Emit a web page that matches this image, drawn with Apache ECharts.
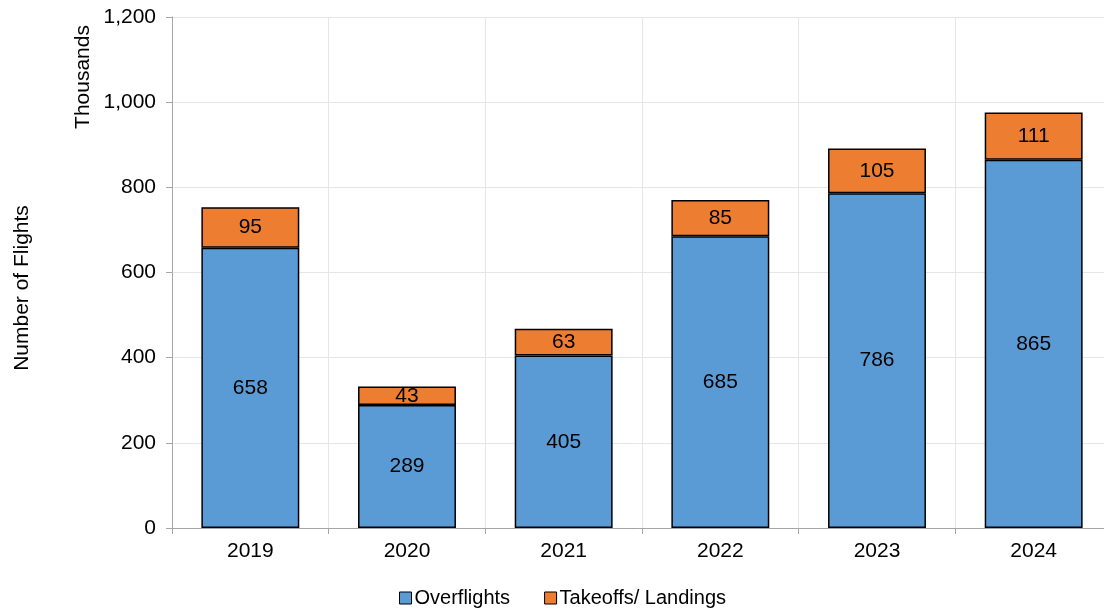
<!DOCTYPE html>
<html><head><meta charset="utf-8">
<script src="https://cdn.jsdelivr.net/npm/echarts@6/dist/echarts.min.js"></script>
<style>html,body{margin:0;padding:0;background:#fff}#c{width:1104px;height:615px}</style>
</head><body><div id="c"></div>
<script>
const categories = ['2019','2020','2021','2022','2023','2024'];
const overflights = [658, 289, 405, 685, 786, 865];
const takeoffsLandings = [95, 43, 63, 85, 105, 111];
const yTicks = [0, 200, 400, 600, 800, 1000, 1200];

const chart = echarts.init(document.getElementById('c'));
const font = 'Liberation Sans, Arial, sans-serif';
chart.setOption({
  animation: false,
  textStyle: {fontFamily: font},
  grid: {left: 172, width: 940, top: 17, bottom: 87, containLabel: false, outerBoundsMode: 'none'},
  legend: {
    bottom: 2, left: 394, itemWidth: 12, itemHeight: 12, itemGap: 34,
    icon: 'rect',
    textStyle: {fontSize: 20, color: '#000', fontFamily: font, padding: [0,0,0,-2]},
    itemStyle: {borderColor: '#000', borderWidth: 1},
    data: ['Overflights', 'Takeoffs/ Landings']
  },
  xAxis: {
    type: 'category', data: categories,
    axisLine: {lineStyle: {color: '#a6a6a6', width: 1}},
    axisTick: {show: true, length: 6, lineStyle: {color: '#a6a6a6'}},
    axisLabel: {fontSize: 21, color: '#000', margin: 13, fontFamily: font},
    splitLine: {show: true, lineStyle: {color: '#e6e6e6'}}
  },
  yAxis: {
    type: 'value', min: 0, max: 1200, interval: 200,
    axisLine: {show: true, lineStyle: {color: '#a6a6a6'}},
    axisTick: {show: true, length: 6, lineStyle: {color: '#a6a6a6'}},
    axisLabel: {fontSize: 21, color: '#000', margin: 16, fontFamily: font,
      formatter: v => v.toLocaleString('en-US')},
    splitLine: {lineStyle: {color: '#e6e6e6'}}
  },
  graphic: [
    {type: 'text', x: 83, y: 77, rotation: Math.PI/2,
     style: {text: 'Thousands', fontSize: 21, fill: '#000', fontFamily: font, align: 'center', verticalAlign: 'middle'}},
    {type: 'text', x: 22, y: 288, rotation: Math.PI/2,
     style: {text: 'Number of Flights', fontSize: 21, fill: '#000', fontFamily: font, align: 'center', verticalAlign: 'middle'}}
  ],
  series: [
    {name: 'Overflights', type: 'bar', stack: 'a', data: overflights, barWidth: '62.5%',
     itemStyle: {color: '#5b9bd5', borderColor: '#000', borderWidth: 1.5},
     label: {show: true, position: 'inside', fontSize: 21, color: '#000', fontFamily: font}},
    {name: 'Takeoffs/ Landings', type: 'bar', stack: 'a', data: takeoffsLandings, barWidth: '62.5%',
     itemStyle: {color: '#ed7d31', borderColor: '#000', borderWidth: 1.5},
     label: {show: true, position: 'inside', fontSize: 21, color: '#000', fontFamily: font}}
  ]
});
</script></body></html>
